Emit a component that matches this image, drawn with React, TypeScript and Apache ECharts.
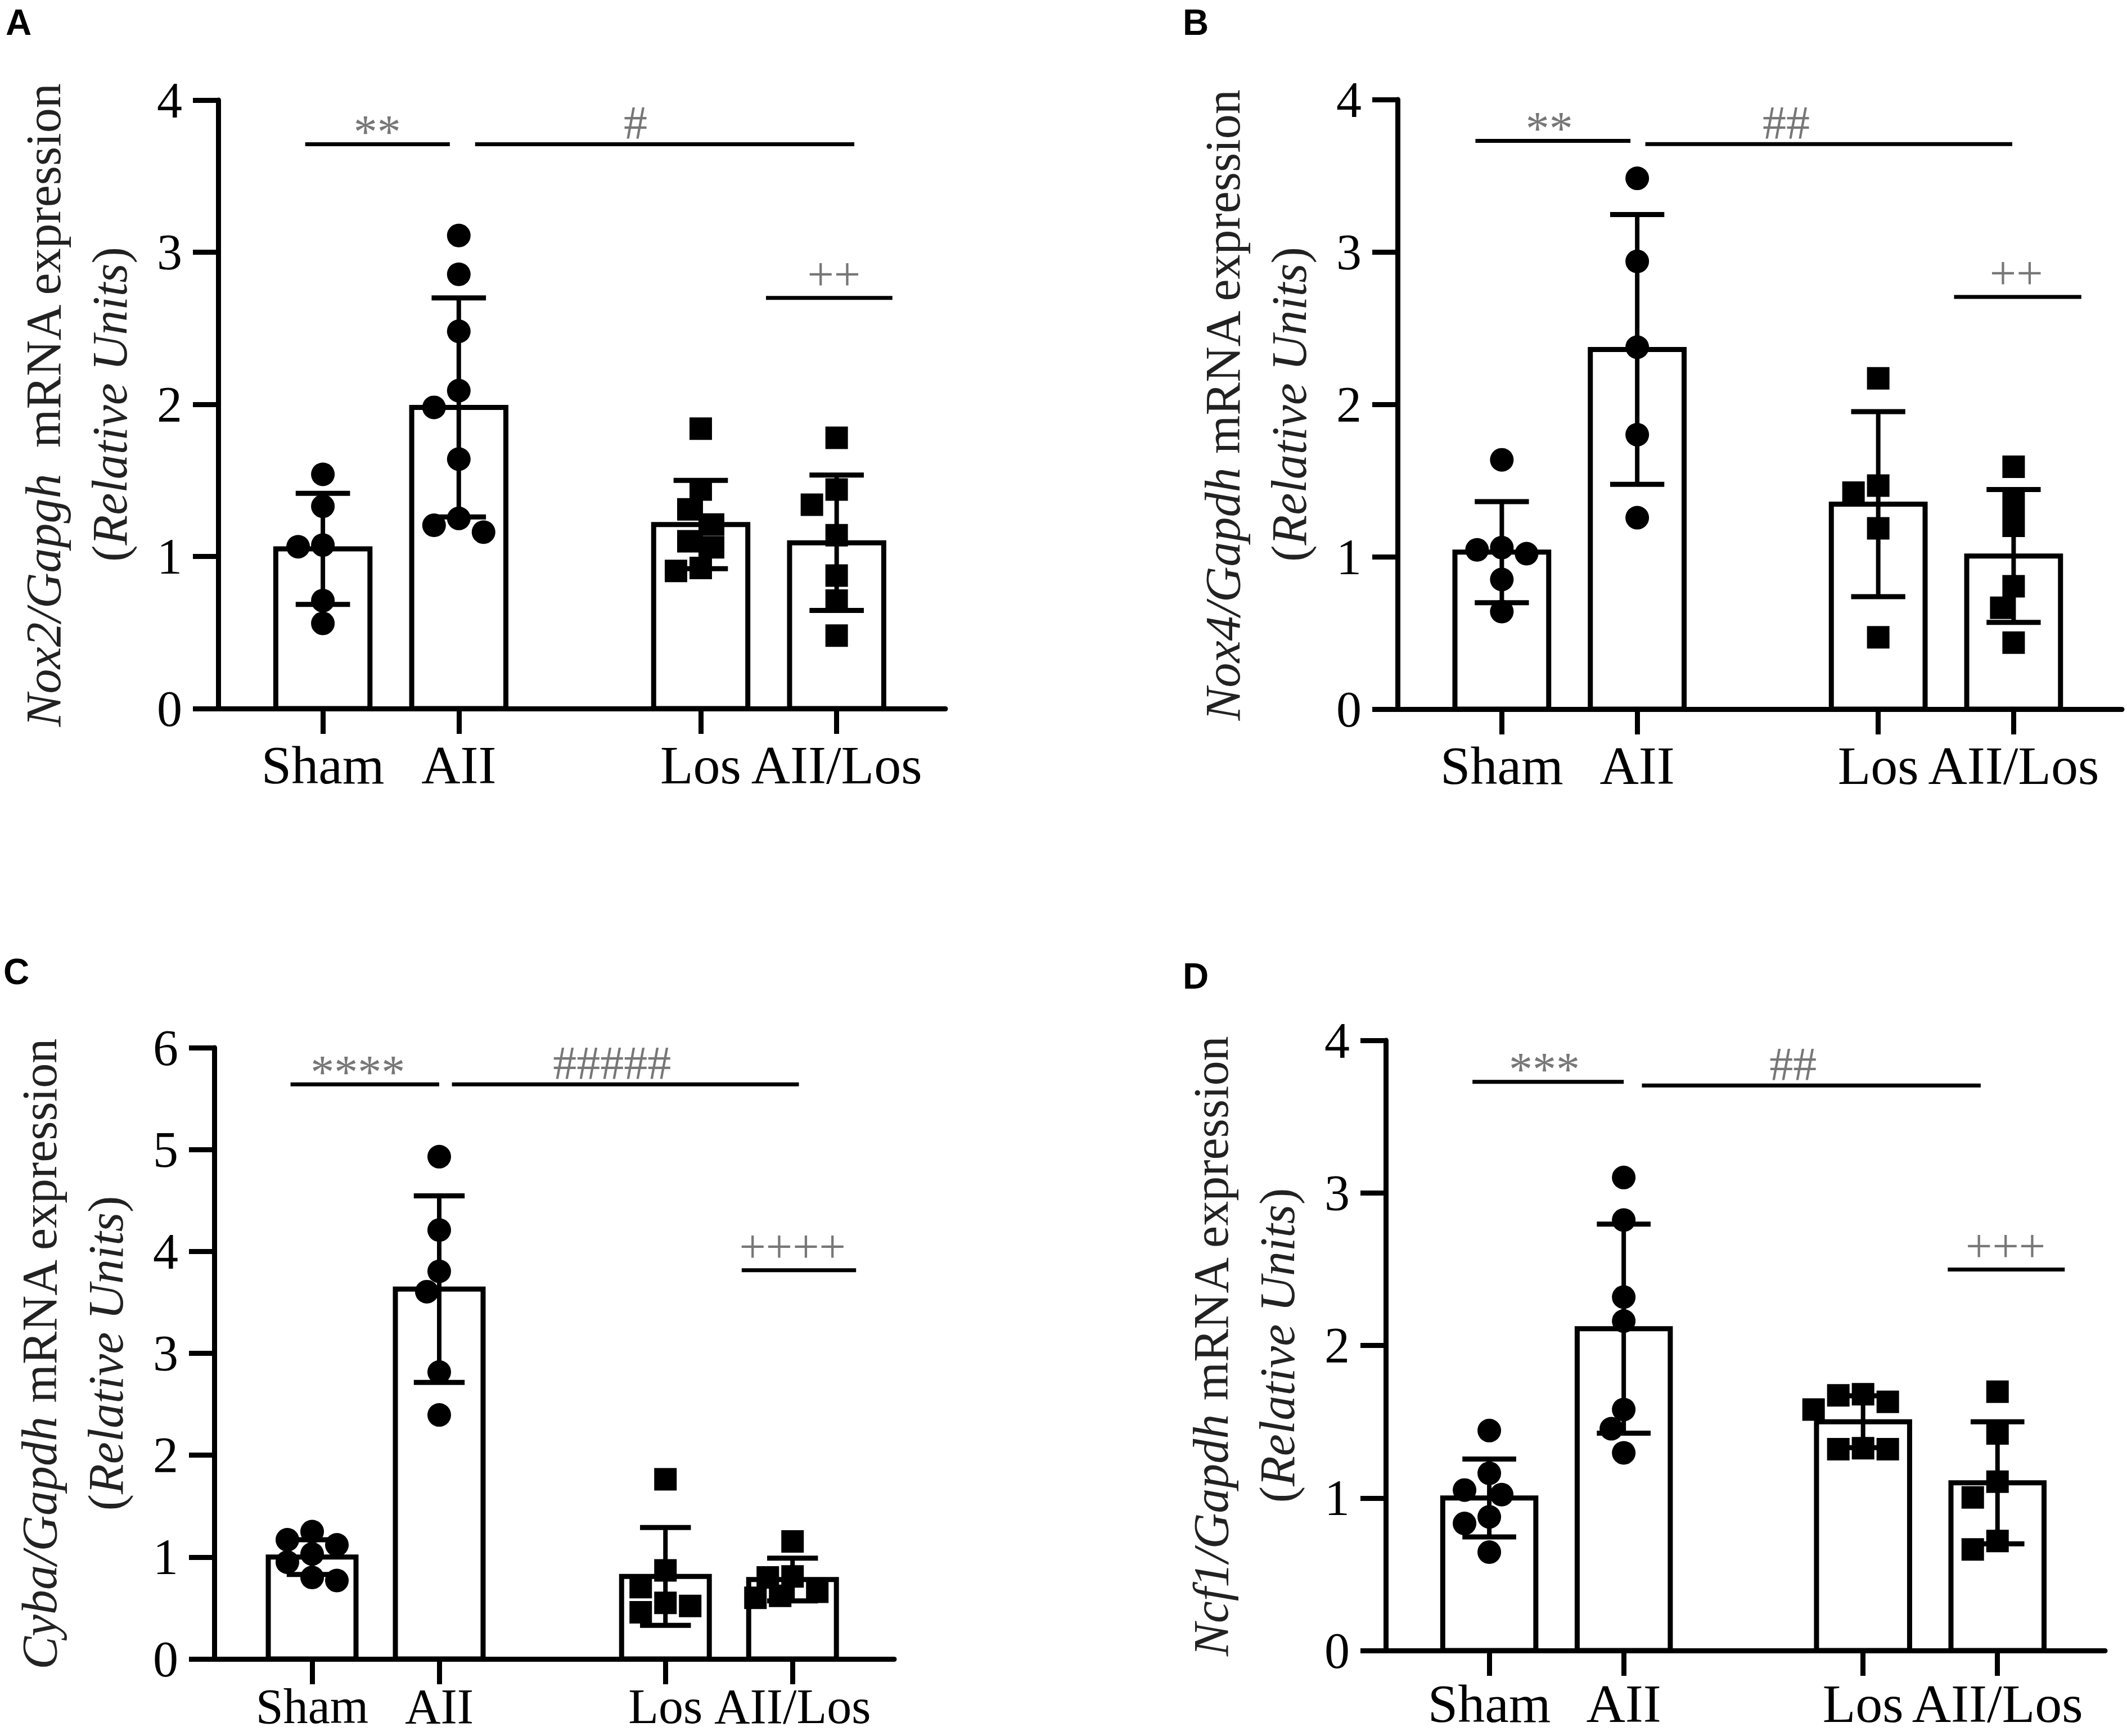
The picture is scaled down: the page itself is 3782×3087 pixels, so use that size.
import React, { useEffect, useRef } from 'react';
import * as echarts from 'echarts';

// ---------- categories ----------
const groups = ['Sham', 'AII', 'Los', 'AII/Los'];
const groupShapes = ['circle', 'circle', 'rect', 'rect'];

// ---------- Panel A: Nox2/Gapgh ----------
const nox2Sham = [1.54, 1.33, 1.075, 1.064, 0.71, 0.56];
const nox2AII = [3.11, 2.855, 2.48, 2.09, 1.98, 1.64, 1.25, 1.205, 1.16];
const nox2Los = [1.84, 1.44, 1.31, 1.21, 1.1, 1.06, 0.924, 0.905];
const nox2AIILos = [1.78, 1.44, 1.34, 1.14, 0.874, 0.71, 0.48];
const nox2Mean = [1.05, 1.98, 1.21, 1.09];
const nox2Sd = [0.365, 0.72, 0.29, 0.445];
const nox2Sig = [
  { from: -0.13, to: 0.934, y: 3.71, text: '**', at: 0.4 },
  { from: 1.12, to: 3.91, y: 3.71, text: '#', at: 2.3 },
  { from: 3.26, to: 4.19, y: 2.7, text: '++', at: 3.76 },
];

// ---------- Panel B: Nox4/Gapdh ----------
const nox4Sham = [1.636, 1.06, 1.045, 1.02, 0.851, 0.64];
const nox4AII = [3.483, 2.938, 2.375, 1.801, 1.256];
const nox4Los = [2.171, 1.467, 1.421, 1.186, 0.471];
const nox4AIILos = [1.59, 1.351, 1.203, 0.806, 0.665, 0.436];
const nox4Mean = [1.03, 2.36, 1.345, 1.005];
const nox4Sd = [0.332, 0.885, 0.607, 0.436];
const nox4Sig = [
  { from: -0.195, to: 0.95, y: 3.729, text: '**', at: 0.35 },
  { from: 1.06, to: 3.77, y: 3.708, text: '##', at: 2.1 },
  { from: 3.34, to: 4.28, y: 2.705, text: '++', at: 3.8 },
];

// ---------- Panel C: Cyba/Gapdh ----------
const cybaSham = [1.25, 1.17, 1.12, 1.03, 0.95, 0.8, 0.77];
const cybaAII = [4.93, 4.21, 3.805, 3.605, 2.816, 2.395];
const cybaLos = [1.763, 0.87, 0.705, 0.55, 0.52, 0.458];
const cybaAIILos = [1.154, 0.81, 0.8, 0.66, 0.62, 0.6];
const cybaMean = [1.0, 3.63, 0.81, 0.78];
const cybaSd = [0.17, 0.915, 0.48, 0.21];
const cybaSig = [
  { from: -0.17, to: 1.0, y: 5.64, text: '****', at: 0.36 },
  { from: 1.1, to: 3.83, y: 5.64, text: '#####', at: 2.36 },
  { from: 3.38, to: 4.28, y: 3.816, text: '++++', at: 3.78 },
];

// ---------- Panel D: Ncf1/Gapdh ----------
const ncf1Sham = [1.442, 1.162, 1.052, 1.022, 0.876, 0.833, 0.645];
const ncf1AII = [3.101, 2.822, 2.317, 2.16, 1.58, 1.454, 1.296];
const ncf1Los = [1.68, 1.673, 1.63, 1.58, 1.326, 1.32, 1.32];
const ncf1AIILos = [1.697, 1.423, 1.107, 1.004, 0.718, 0.663];
const ncf1Mean = [1.0, 2.11, 1.5, 1.1];
const ncf1Sd = [0.255, 0.685, 0.17, 0.4];
const ncf1Sig = [
  { from: -0.125, to: 1.0, y: 3.728, text: '***', at: 0.41 },
  { from: 1.135, to: 3.655, y: 3.704, text: '##', at: 2.26 },
  { from: 3.41, to: 4.28, y: 2.498, text: '+++', at: 3.84 },
];

// ---------- layout ----------
const groupPositions = [0, 1, 2.78, 3.78];
const X_MIN = -0.77;
const X_MAX = 4.58;

const panels = [
  {
    letter: 'A', gene: 'Nox2/Gapgh', sep: '  ', yMax: 4, catFont: 96, catMargin: 52,
    points: [nox2Sham, nox2AII, nox2Los, nox2AIILos], mean: nox2Mean, sd: nox2Sd, sig: nox2Sig,
    grid: { left: 388, top: 178, width: 1293, height: 1082 }, letterAt: [10, 8],
  },
  {
    letter: 'B', gene: 'Nox4/Gapdh', sep: ' ', yMax: 4, catFont: 96, catMargin: 52,
    points: [nox4Sham, nox4AII, nox4Los, nox4AIILos], mean: nox4Mean, sd: nox4Sd, sig: nox4Sig,
    grid: { left: 2485, top: 177, width: 1288, height: 1084 }, letterAt: [2103, 8],
  },
  {
    letter: 'C', gene: 'Cyba/Gapdh', sep: ' ', yMax: 6, catFont: 88, catMargin: 40,
    points: [cybaSham, cybaAII, cybaLos, cybaAIILos], mean: cybaMean, sd: cybaSd, sig: cybaSig,
    grid: { left: 381, top: 1863, width: 1209, height: 1087 }, letterAt: [6, 1696],
  },
  {
    letter: 'D', gene: 'Ncf1/Gapdh', sep: ' ', yMax: 4, catFont: 96, catMargin: 46,
    points: [ncf1Sham, ncf1AII, ncf1Los, ncf1AIILos], mean: ncf1Mean, sd: ncf1Sd, sig: ncf1Sig,
    grid: { left: 2464, top: 1850, width: 1279, height: 1085 }, letterAt: [2103, 1704],
  },
];

const SERIF = '"Liberation Serif", "Times New Roman", serif';
const MARK = 42;

// simple beeswarm: offsets (px) so markers do not overlap
function swarm(values: number[], pxPerY: number): number[] {
  const step = 44;
  const minDist = 39;
  const cands = [0, -0.5, 0.5, -1, 1, -1.5, 1.5, -2, 2, -2.5, 2.5, -3, 3];
  const placed: { x: number; y: number }[] = [];
  return values.map((v) => {
    const y = v * pxPerY;
    for (const c of cands) {
      const x = c * step;
      if (placed.every((p) => Math.hypot(p.x - x, p.y - y) >= minDist)) {
        placed.push({ x, y });
        return x;
      }
    }
    placed.push({ x: 0, y });
    return 0;
  });
}

const glyphLift: Record<string, number> = { '*': 22, '#': 38, '+': 42 };

function buildOption() {
  const grids: any[] = [];
  const xAxes: any[] = [];
  const yAxes: any[] = [];
  const series: any[] = [];
  const graphics: any[] = [];

  panels.forEach((p, pi) => {
    grids.push({ ...p.grid, containLabel: false, outerBoundsMode: 'none' });
    xAxes.push({
      gridIndex: pi,
      type: 'value',
      min: X_MIN,
      max: X_MAX,
      splitLine: { show: false },
      axisLine: { show: true, onZero: false, lineStyle: { color: '#000', width: 9 } },
      axisTick: {
        show: true, customValues: groupPositions, length: 45, inside: false,
        lineStyle: { color: '#000', width: 9 },
      },
      axisLabel: {
        show: true, customValues: groupPositions, margin: p.catMargin, hideOverlap: false,
        fontFamily: SERIF, fontSize: p.catFont, lineHeight: p.catFont, color: '#000',
        formatter: (v: number) => {
          const i = groupPositions.findIndex((g) => Math.abs(g - v) < 1e-6);
          return i >= 0 ? groups[i] : '';
        },
      },
    });
    yAxes.push({
      gridIndex: pi,
      type: 'value',
      min: 0,
      max: p.yMax,
      interval: 1,
      splitLine: { show: false },
      axisLine: { show: true, onZero: false, lineStyle: { color: '#000', width: 9 } },
      axisTick: { show: true, length: 45, lineStyle: { color: '#000', width: 9 } },
      axisLabel: { fontFamily: SERIF, fontSize: 90, color: '#000', margin: 64 },
      name: `{i|${p.gene}}${p.sep}mRNA expression\n({i|Relative Units})`,
      nameLocation: 'middle',
      nameRotate: 90,
      nameGap: 134,
      nameTextStyle: {
        fontFamily: SERIF, fontSize: 88, color: '#222', lineHeight: 118,
        rich: { i: { fontFamily: SERIF, fontStyle: 'italic', fontSize: 88, color: '#222', lineHeight: 118 } },
      },
    });

    // bars + SD error bars
    series.push({
      type: 'custom',
      xAxisIndex: pi,
      yAxisIndex: pi,
      z: 2,
      data: groups.map((g, i) => [groupPositions[i], p.mean[i], p.sd[i]]),
      renderItem: (params: any, api: any) => {
        const x = api.value(0);
        const m = api.value(1);
        const s = api.value(2);
        const top = api.coord([x, m]);
        const base = api.coord([x, 0]);
        const hi = api.coord([x, m + s]);
        const lo = api.coord([x, m - s]);
        const unit = api.size([1, 0])[0];
        const bw = unit * 0.73 - 9;
        const cap = unit * 0.4;
        return {
          type: 'group',
          children: [
            { type: 'rect', shape: { x: top[0] - bw / 2, y: top[1], width: bw, height: base[1] - top[1] },
              style: { fill: '#fff', stroke: '#000', lineWidth: 9 } },
            { type: 'line', shape: { x1: hi[0], y1: hi[1], x2: lo[0], y2: lo[1] },
              style: { stroke: '#000', lineWidth: 8 } },
            { type: 'line', shape: { x1: hi[0] - cap / 2, y1: hi[1], x2: hi[0] + cap / 2, y2: hi[1] },
              style: { stroke: '#000', lineWidth: 9 } },
            { type: 'line', shape: { x1: lo[0] - cap / 2, y1: lo[1], x2: lo[0] + cap / 2, y2: lo[1] },
              style: { stroke: '#000', lineWidth: 9 } },
          ],
        };
      },
    });

    // individual points
    const pxPerX = p.grid.width / (X_MAX - X_MIN);
    const pxPerY = p.grid.height / p.yMax;
    const pts: any[] = [];
    p.points.forEach((vals, gi) => {
      const offs = swarm(vals, pxPerY);
      vals.forEach((v, k) => {
        pts.push({
          value: [groupPositions[gi] + offs[k] / pxPerX, v],
          symbol: groupShapes[gi],
          symbolSize: groupShapes[gi] === 'rect' ? MARK - 2 : MARK,
        });
      });
    });
    series.push({
      type: 'scatter',
      xAxisIndex: pi,
      yAxisIndex: pi,
      z: 3,
      data: pts,
      itemStyle: { color: '#000', opacity: 1 },
      emphasis: { disabled: true },
    });

    // significance brackets
    series.push({
      type: 'custom',
      xAxisIndex: pi,
      yAxisIndex: pi,
      z: 4,
      clip: false,
      data: p.sig.map((s) => [s.from, s.y, s.to, s.at]),
      renderItem: (params: any, api: any) => {
        const s = p.sig[params.dataIndex];
        const a = api.coord([s.from, s.y]);
        const b = api.coord([s.to, s.y]);
        const c = api.coord([s.at, s.y]);
        const lift = glyphLift[s.text[0]] ?? 30;
        return {
          type: 'group',
          children: [
            { type: 'line', shape: { x1: a[0], y1: a[1], x2: b[0], y2: b[1] },
              style: { stroke: '#000', lineWidth: 7 } },
            { type: 'text', x: c[0], y: c[1] - lift,
              style: { text: s.text, fill: '#777', font: `84px ${SERIF}`, align: 'center', verticalAlign: 'middle' } },
          ],
        };
      },
    });

    graphics.push({
      type: 'text',
      left: p.letterAt[0],
      top: p.letterAt[1],
      style: { text: p.letter, fill: '#000', font: 'bold 64px "Liberation Sans", Arial, sans-serif' },
    });
  });

  return {
    animation: false,
    backgroundColor: '#fff',
    grid: grids,
    xAxis: xAxes,
    yAxis: yAxes,
    series,
    graphic: graphics,
  };
}

export default function App() {
  const ref = useRef<HTMLDivElement>(null);
  useEffect(() => {
    document.body.style.margin = '0';
    document.body.style.overflow = 'hidden';
    if (!ref.current) return;
    const chart = echarts.init(ref.current, undefined, { renderer: 'svg' });
    chart.setOption(buildOption() as any);
    return () => chart.dispose();
  }, []);
  return <div ref={ref} style={{ width: 3782, height: 3087, background: '#fff' }} />;
}
